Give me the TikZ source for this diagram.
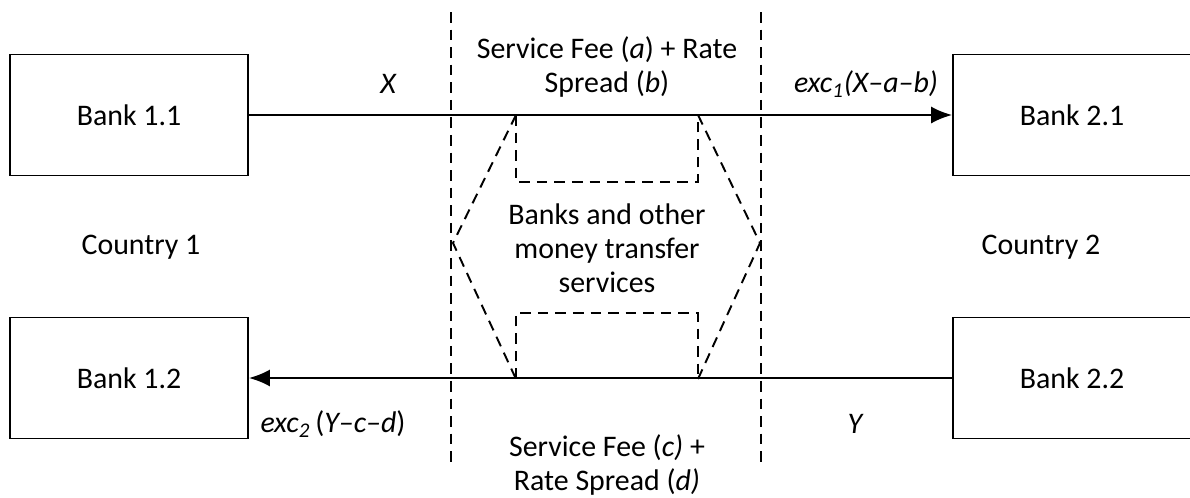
\documentclass[tikz,border=0pt]{standalone}
\usepackage{fontspec}
\setmainfont{Carlito}
\usetikzlibrary{arrows.meta}

\begin{document}
\begin{tikzpicture}[x=0.02cm, y=-0.02cm, every node/.style={font=\fontsize{17}{19.4}\selectfont}, >={Latex[length=4.2mm, width=3.4mm]}, bank/.style={draw, line width=0.9pt, minimum width=4.76cm, minimum height=2.42cm, inner sep=0pt}, flow/.style={->, line width=1.5pt}, dsh/.style={line width=1.1pt, dash pattern=on 6pt off 4pt}]
	\useasboundingbox (0,0) rectangle (1190,497);
	% banks on both sides
	\node[bank] (b11) at (129,115) {Bank 1.1};
	\node[bank] (b12) at (129,378) {Bank 1.2};
	\node[bank] (b21) at (1072,115) {Bank 2.1};
	\node[bank] (b22) at (1072,378) {Bank 2.2};
	\node (c1) at (141,247) {Country 1};
	\node (c2) at (1041,247) {Country 2};
	% money flows
	\draw[flow] (b11) -- (b21);
	\draw[flow] (b22) -- (b12);
	\node (x) at (388,84) {\itshape X};
	\node (ex1) at (866,84) {\itshape exc\textsubscript{1}(X--a--b)};
	\node (y) at (855,424) {\itshape Y};
	\node (ex2) at (333,424) {\textit{exc\textsubscript{2}}\,(\textit{Y--c--d})};
	% intermediary zone
	\coordinate (zt1) at (451,12);  \coordinate (zb1) at (451,468);
	\coordinate (zt2) at (761,12);  \coordinate (zb2) at (761,468);
	\draw[dsh] (zt1) -- (zb1);
	\draw[dsh] (zt2) -- (zb2);
	\node[align=center] (fee1) at (607,67) {Service Fee (\textit{a}) + Rate\\Spread (\textit{b})};
	\node[align=center] (fee2) at (607,465) {Service Fee (\textit{c)} +\\Rate Spread (\textit{d)}};
	\node[align=center] (mts) at (607,248) {Banks and other\\money transfer\\services};
	% hexagon round the intermediaries
	\coordinate (h1) at (516,115); \coordinate (h2) at (698,115);
	\coordinate (h3) at (516,379); \coordinate (h4) at (698,379);
	\coordinate (hl) at (453,243); \coordinate (hr) at (760,243);
	\draw[dsh] (h1) -- (516,182) -- (698,182) -- (h2);
	\draw[dsh] (h3) -- (516,313) -- (698,313) -- (h4);
	\draw[dsh] (h1) -- (hl) -- (h3);
	\draw[dsh] (h2) -- (hr) -- (h4);
\end{tikzpicture}
\end{document}
